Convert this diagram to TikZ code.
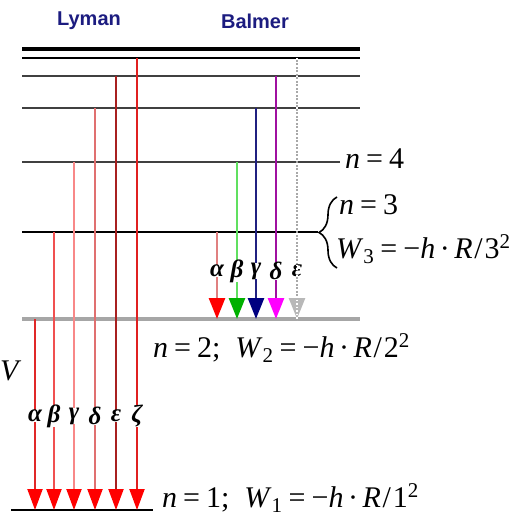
\documentclass[tikz,border=0pt]{standalone}
\usepackage{fontspec}
\setmainfont{Liberation Serif}
\setsansfont{Liberation Sans}
\usetikzlibrary{arrows.meta,decorations.pathreplacing,positioning}

\definecolor{titleBlue}{HTML}{1C1C80}
\definecolor{lyA}{HTML}{E02828}
\definecolor{lyB}{HTML}{F05050}
\definecolor{lyC}{HTML}{F88888}
\definecolor{lyD}{HTML}{E07070}
\definecolor{lyE}{HTML}{A82020}
\definecolor{lyF}{HTML}{E02020}
\definecolor{baA}{HTML}{E08080}
\definecolor{baB}{HTML}{60E060}
\definecolor{baC}{HTML}{202080}
\definecolor{baD}{HTML}{A010A0}
\definecolor{baE}{HTML}{A8A8A8}
\definecolor{hdB}{HTML}{00B000}
\definecolor{hdC}{HTML}{000080}
\definecolor{hdD}{HTML}{FF00FF}
\definecolor{hdE}{HTML}{B8B8B8}

\newcommand{\sym}[1]{\textit{#1}}
\newcommand{\eqs}{\hspace{0.2em}=\hspace{0.2em}}
\newcommand{\cdt}{\hspace{0.15em}·\hspace{0.15em}}
\newcommand{\slh}{\hspace{0.06em}/\hspace{0.06em}}

\tikzset{
  lvThick/.style={line width=4.5pt, black},
  lvBlack/.style={line width=2.5pt, black},
  lvDark/.style={line width=2.5pt, black!75},
  lvPale/.style={line width=3.5pt, black!35},
  greek/.style={fill=white, inner sep=0pt, font=\fontsize{25}{25}\selectfont\bfseries\itshape},
  eqn/.style={inner sep=0pt, anchor=base west},
  series/.style={font=\fontsize{20}{20}\selectfont\sffamily\bfseries, text=titleBlue},
}

\begin{document}
\begin{tikzpicture}[x=1pt, y=-1pt, font=\fontsize{30}{33}\selectfont]
  \useasboundingbox (0,0) rectangle (512,517);

  % series names
  \node[series] (lyman) at (89,21) {Lyman};
  \node[series] (balmer) at (255,21) {Balmer};

  % energy levels
  \foreach \nm/\y/\xr/\st in {inf/49/360/lvThick, n7/58/360/lvBlack, n6/76/360/lvDark,
      n5/108/360/lvDark, n4/162/340/lvDark, n3/232/318/lvBlack, n2/319/360/lvPale}{
    \coordinate (\nm L) at (22,\y);
    \coordinate (\nm R) at (\xr,\y);
    \draw[\st] (\nm L) -- (\nm R);
  }
  \coordinate (n1L) at (11,510);
  \coordinate (n1R) at (153,510);
  \draw[lvBlack] (n1L) -- (n1R);

  % Lyman series, down to n = 1
  \foreach \x/\y/\col/\nm/\lab in {35/319/lyA/a/α, 54/232/lyB/b/β, 74/162/lyC/c/γ,
      95/108/lyD/d/δ, 116/76/lyE/e/ε, 137/58/lyF/f/ζ}{
    \coordinate (ly\nm s) at (\x,\y);
    \coordinate (ly\nm e) at (\x,510);
    \draw[\col, line width=2pt, -{Triangle[width=15pt,length=21pt,color=red]}]
      (ly\nm s) -- (ly\nm e);
    \node[greek] (lyl\nm) at (\x,416) {\lab};
  }

  % Balmer series, down to n = 2
  \foreach \x/\y/\col/\hd/\nm/\lab in {217/232/baA/red/a/α, 237/162/baB/hdB/b/β,
      256/108/baC/hdC/c/γ, 276/76/baD/hdD/d/δ, 297/58/baE/hdE/e/ε}{
    \coordinate (ba\nm s) at (\x,\y);
    \coordinate (ba\nm e) at (\x,319);
    \draw[\col, line width=2.5pt, -{Triangle[width=16pt,length=21pt,color=\hd]}]
      (ba\nm s) -- (ba\nm e);
    \node[greek] (bal\nm) at (\x,271) {\lab};
  }
  \draw[white, line width=1.2pt, dash pattern=on 1.5pt off 2pt] (baes) -- ([yshift=-22pt]baee);

  % labels
  \node[eqn] (lbl4) at (345,168) {\sym{n}\eqs 4};
  \draw[line width=1.6pt, decorate, decoration={brace, amplitude=18pt}]
    (337,268) -- (337,197);
  \node[eqn] (lbl3) at (339,214) {\sym{n}\eqs 3};
  \node[eqn] (lblw3) at (336,258) {\sym{W}\textsubscript{3}\eqs−\sym{h}\cdt\sym{R}\slh 3\textsuperscript{2}};
  \node[eqn] (lbl2) at (153,357) {\sym{n}\eqs 2;\enspace\sym{W}\textsubscript{2}\eqs−\sym{h}\cdt\sym{R}\slh 2\textsuperscript{2}};
  \node[eqn] (lbl1) at (162,507) {\sym{n}\eqs 1;\enspace\sym{W}\textsubscript{1}\eqs−\sym{h}\cdt\sym{R}\slh 1\textsuperscript{2}};
  \node[eqn] (volt) at (0,380) {\sym{V}};
\end{tikzpicture}
\end{document}
